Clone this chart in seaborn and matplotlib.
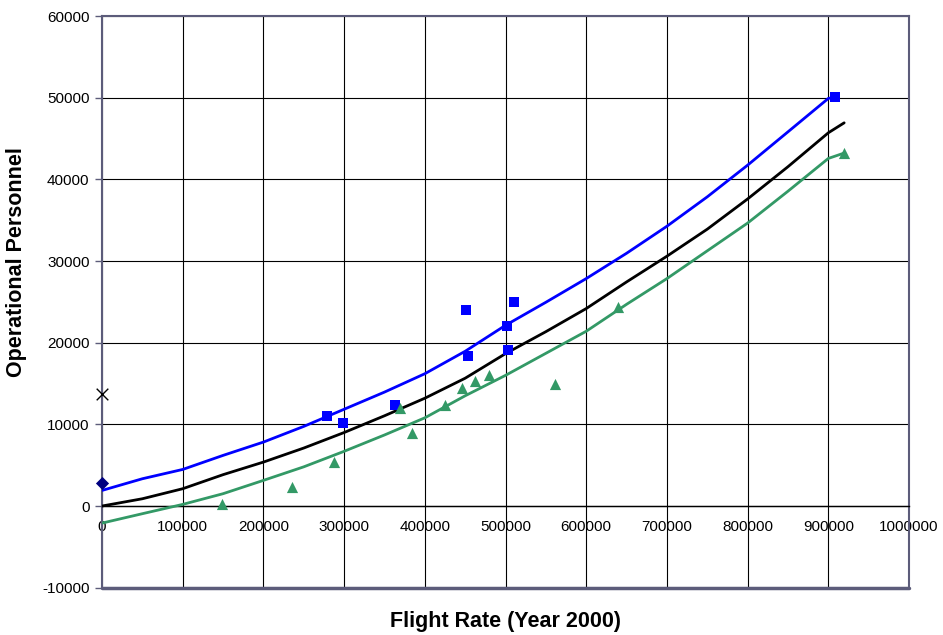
import matplotlib
matplotlib.use("Agg")
import matplotlib.pyplot as plt
import seaborn as sns

# --- data ---
blue_x = [0, 50000, 100000, 150000, 200000, 250000, 300000, 350000, 400000, 450000,
          500000, 550000, 600000, 650000, 700000, 750000, 800000, 850000, 900000, 908000]
blue_y = [1910, 3340, 4480, 6200, 7830, 9750, 11850, 13950, 16200, 18950,
          22130, 24950, 27850, 30950, 34260, 37860, 41740, 45820, 49910, 50070]

black_x = [0, 50000, 100000, 150000, 200000, 250000, 300000, 350000, 400000, 450000,
           500000, 550000, 600000, 650000, 700000, 750000, 800000, 850000, 900000, 919600]
black_y = [0, 890, 2120, 3840, 5380, 7100, 9000, 11050, 13200, 15650,
           18660, 21350, 24180, 27440, 30590, 33900, 37600, 41550, 45700, 46920]

green_x = [0, 50000, 100000, 150000, 200000, 250000, 300000, 350000, 400000, 450000,
           500000, 550000, 600000, 650000, 700000, 750000, 800000, 850000, 900000, 919300]
green_y = [-2090, -940, 200, 1510, 3140, 4800, 6700, 8700, 10800, 13500,
           16000, 18700, 21400, 24700, 27850, 31250, 34650, 38550, 42560, 43210]

square_x = [278300, 298500, 362700, 451300, 453000, 501500, 503500, 510600, 908000]
square_y = [11070, 10210, 12380, 24060, 18370, 22050, 19100, 24990, 50070]

tri_x = [149100, 234800, 287300, 369300, 384700, 425200, 446000, 462100, 479500,
         561500, 639400, 919300]
tri_y = [300, 2320, 5340, 12000, 8930, 12410, 14500, 15350, 16000, 14990, 24370, 43210]

diamond_x = [0]
diamond_y = [2850]
cross_x = [0]
cross_y = [13680]

x_ticks = [0, 100000, 200000, 300000, 400000, 500000, 600000, 700000, 800000, 900000, 1000000]
y_ticks = [-10000, 0, 10000, 20000, 30000, 40000, 50000, 60000]

x_label = "Flight Rate (Year 2000)"
y_label = "Operational Personnel"

# --- styling ---
sns.set_theme(style="white")
plt.rcParams['font.family'] = ['Liberation Sans', 'DejaVu Sans']
plt.rcParams['text.color'] = 'black'
plt.rcParams['xtick.color'] = 'black'
plt.rcParams['ytick.color'] = 'black'

fig = plt.figure(figsize=(9.43, 6.35), dpi=100)
ax = fig.add_axes([0.1082, 0.0745, 0.8558, 0.9003])

BLUE = "#0000ff"
GREEN = "#339966"
NAVY = "#000080"
BORDER = "#5c5c7a"

sns.lineplot(x=blue_x, y=blue_y, color=BLUE, lw=2.0, ax=ax, zorder=3)
sns.lineplot(x=black_x, y=black_y, color="black", lw=2.0, ax=ax, zorder=3)
sns.lineplot(x=green_x, y=green_y, color=GREEN, lw=2.0, ax=ax, zorder=3)

sns.scatterplot(x=square_x, y=square_y, marker="s", color=BLUE, s=48,
                edgecolor=BLUE, linewidth=0, ax=ax, zorder=4)
sns.scatterplot(x=tri_x, y=tri_y, marker="^", color=GREEN, s=65,
                edgecolor=GREEN, linewidth=0, ax=ax, zorder=4)
sns.scatterplot(x=diamond_x, y=diamond_y, marker="D", color=NAVY, s=45,
                edgecolor=NAVY, linewidth=0, ax=ax, zorder=5, clip_on=False)
sns.scatterplot(x=cross_x, y=cross_y, marker="x", color="black", s=70,
                linewidth=1.0, ax=ax, zorder=5, clip_on=False)

ax.set_xlim(0, 1000000)
ax.set_ylim(-10000, 60000)
ax.set_xticks(x_ticks)
ax.set_yticks(y_ticks)
ax.set_xticklabels([str(v) for v in x_ticks])
ax.set_yticklabels([str(v) for v in y_ticks])

ax.grid(True, color="black", lw=0.8)
ax.set_axisbelow(True)

# x axis crosses at y = 0 (Excel style)
ax.spines['bottom'].set_position(('data', 0))
ax.spines['bottom'].set_color("black")
ax.spines['bottom'].set_linewidth(1.0)
for s in ['left', 'top', 'right']:
    ax.spines[s].set_color(BORDER)
    ax.spines[s].set_linewidth(1.5)
ax.axhline(-10000, color=BORDER, lw=2.5, zorder=2, clip_on=False)

ax.tick_params(axis='x', direction='out', length=0, pad=10, labelsize=11, labelcolor="black")
ax.tick_params(axis='y', direction='out', length=5, width=1, pad=4, labelsize=11,
               labelcolor="black", color=BORDER)
ax.tick_params(left=True)

fig.text(0.5 * (102 + 909) / 943, 1 - 622 / 635, x_label, ha='center', va='center',
         fontsize=15.5, fontweight='bold', color='black')
fig.text(17 / 943, 1 - 262 / 635, y_label, ha='center', va='center', rotation=90,
         fontsize=15.5, fontweight='bold', color='black')
ax.set_xlabel("")
ax.set_ylabel("")

fig.savefig("out.png", dpi=100)
